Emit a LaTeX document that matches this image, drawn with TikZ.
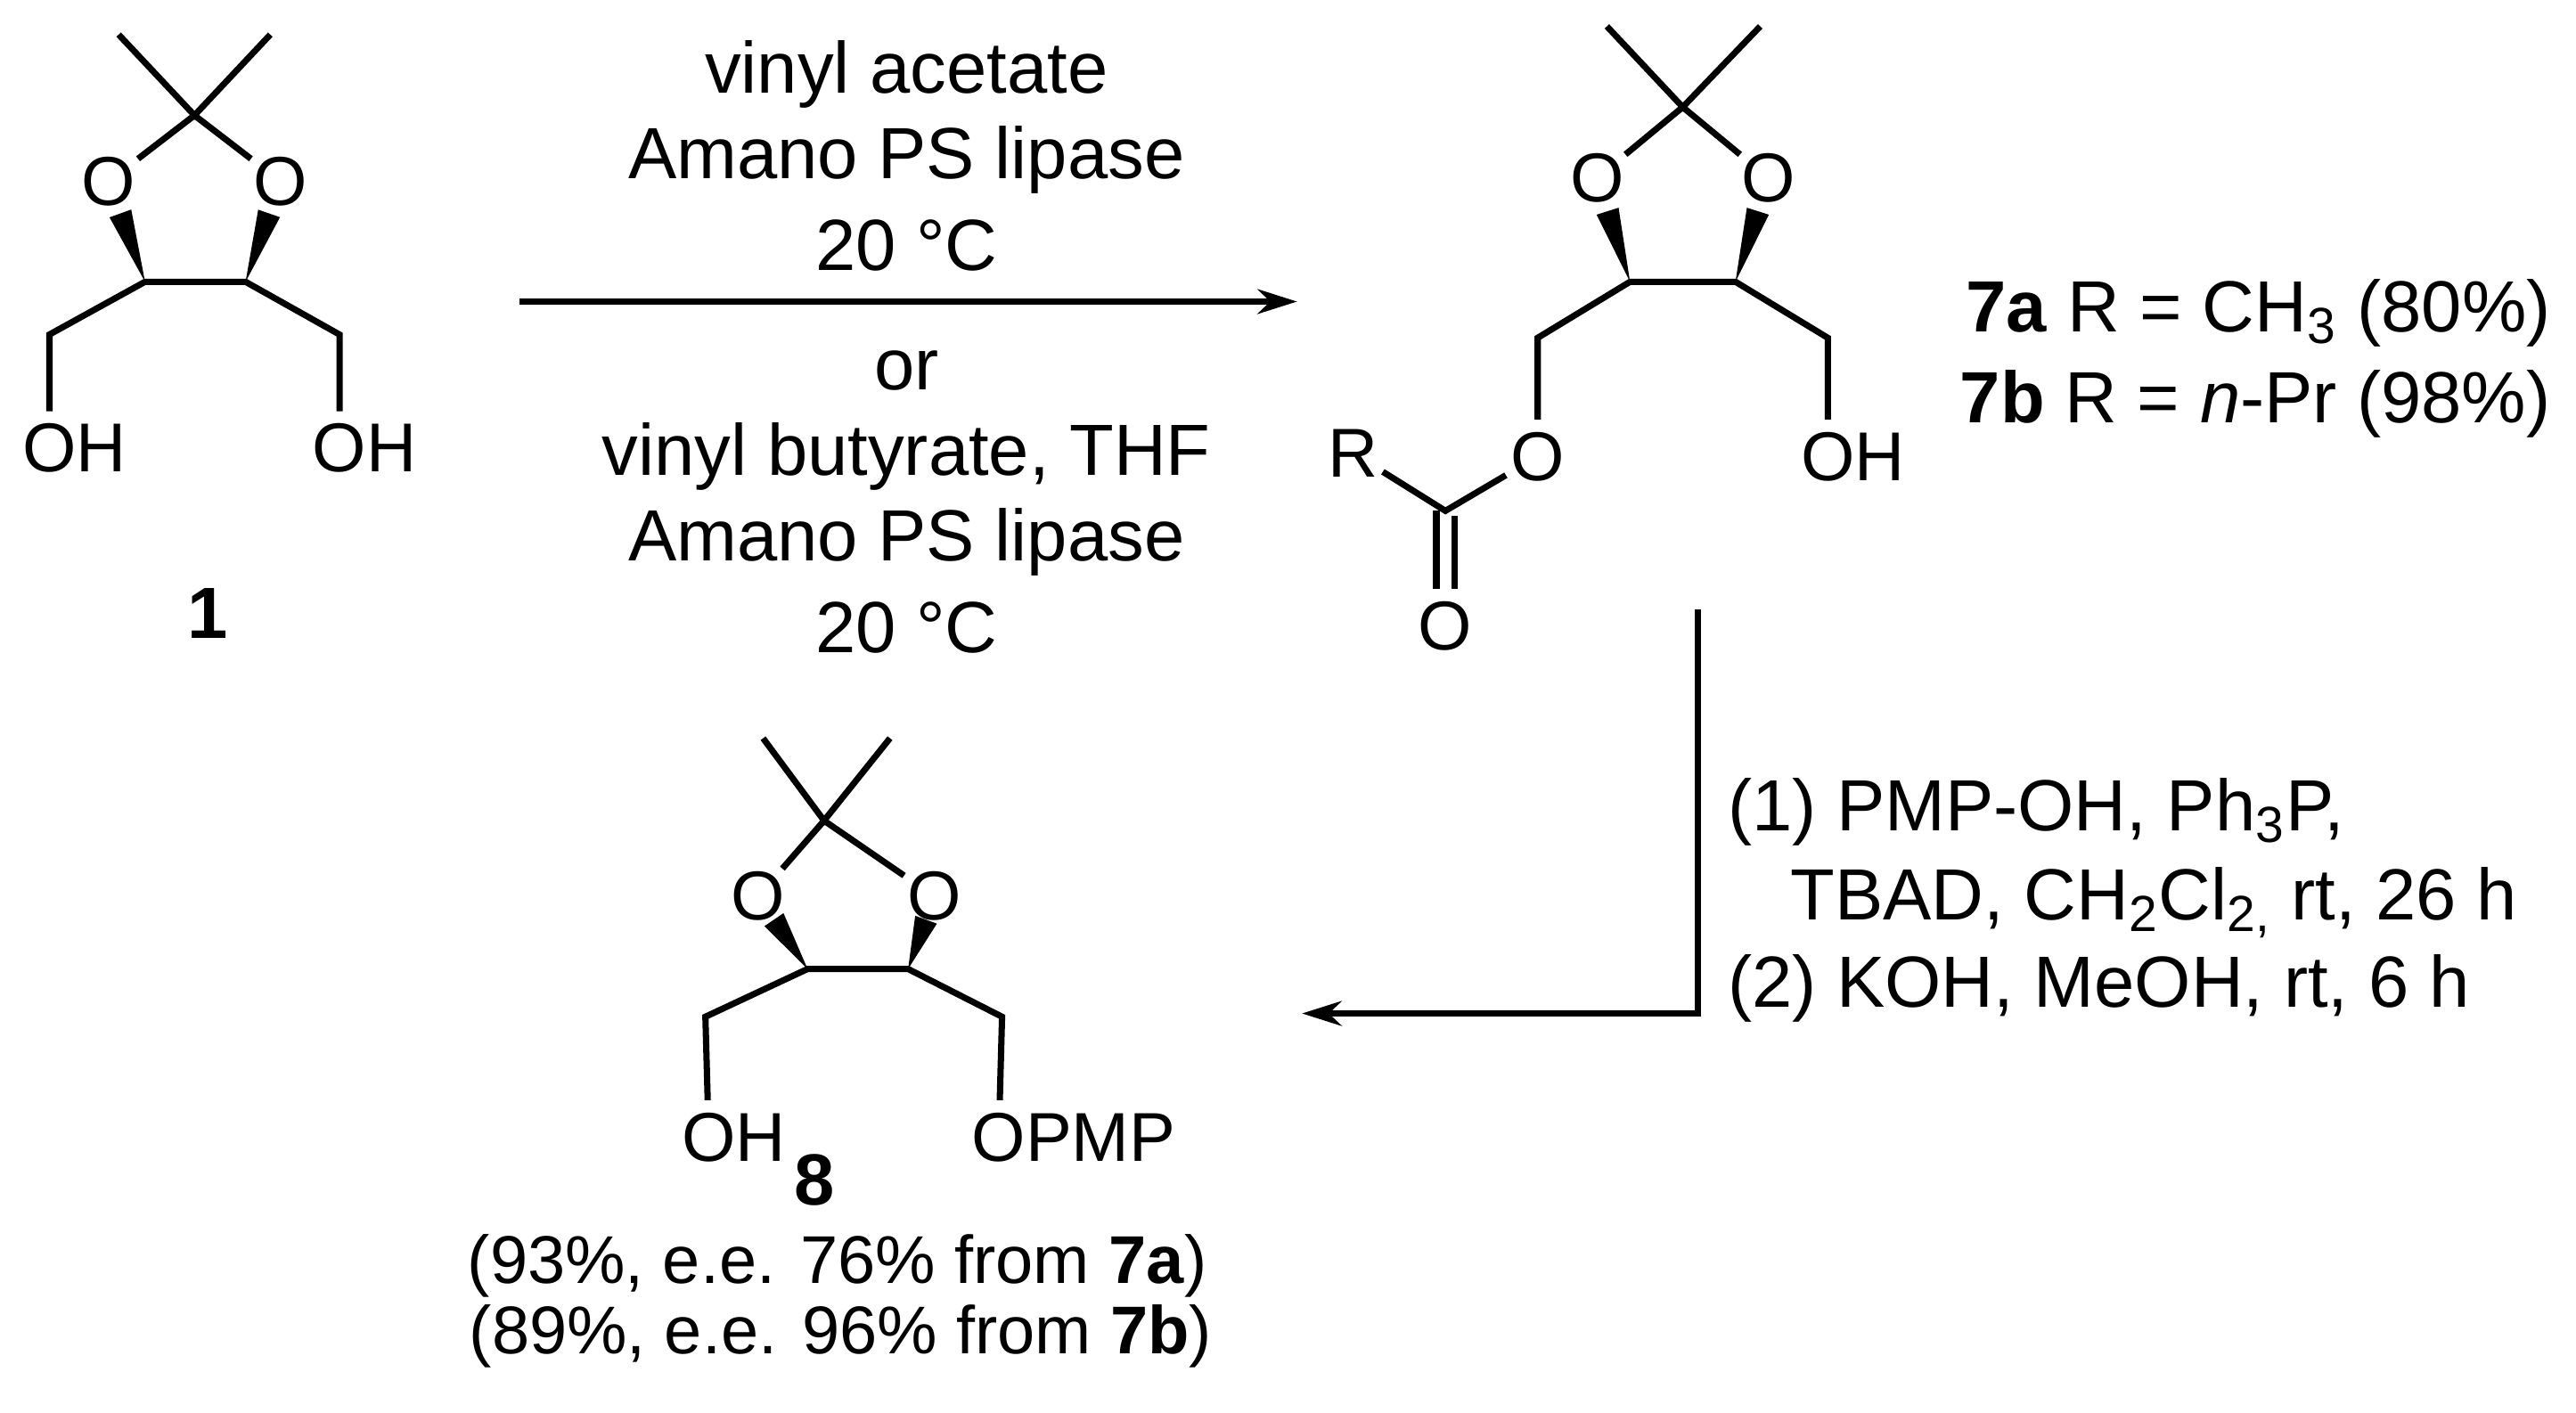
\documentclass[tikz,border=0pt]{standalone}
\usepackage{fontspec}
\setmainfont{Liberation Sans}
\usetikzlibrary{calc,arrows.meta}
\newcommand{\wdg}[2]{\fill ($(#1)$) -- ($ ($(#1)!0.68!(#2)$)!3.5pt!90:(#1) $) -- ($ ($(#1)!0.68!(#2)$)!3.5pt!-90:(#1) $) -- cycle;}
\tikzset{
  atom/.style={circle,inner sep=0pt,font=\fontsize{21}{24}\selectfont},
  txt/.style={font=\fontsize{22}{26}\selectfont,inner sep=0pt},
  btxt/.style={font=\fontsize{22}{26}\selectfont\bfseries,inner sep=0pt},
  bond/.style={line width=1.9pt},
  rxn/.style={line width=1.9pt,-{Stealth[length=12pt,width=7.5pt]}},
}
\begin{document}
\begin{tikzpicture}[x=0.5pt,y=-0.5pt]
\useasboundingbox (0,0) rectangle (1563,857);
% ---- molecule 1
\coordinate (a1m) at (118,70);
\coordinate (a1me1) at (72,21); \coordinate (a1me2) at (164,21);
\node[atom] (a1o1) at (66,110) {O};
\node[atom] (a1o2) at (170,110) {O};
\coordinate (a1c1) at (88,171); \coordinate (a1c2) at (149,171);
\coordinate (a1h1) at (30,203); \coordinate (a1h2) at (206,203);
\node[atom] (a1oh1) at (30,272) {O\rlap{H}};
\node[atom] (a1oh2) at (206,272) {O\rlap{H}};
\draw[bond] (a1me1) -- (a1m) -- (a1me2);
\draw[bond] (a1o1) -- (a1m) -- (a1o2);
\draw[bond] (a1oh1) -- (a1h1) -- (a1c1) -- (a1c2) -- (a1h2) -- (a1oh2);
\wdg{a1c1}{a1o1} \wdg{a1c2}{a1o2}
\node[btxt] (l1) at (126,372) {1};
% ---- molecule 7
\coordinate (b7m) at (1021,65);
\coordinate (b7me1) at (975,16); \coordinate (b7me2) at (1068,16);
\node[atom] (b7o1) at (969,108) {O};
\node[atom] (b7o2) at (1073,108) {O};
\coordinate (b7c1) at (989,171); \coordinate (b7c2) at (1053,171);
\coordinate (b7h1) at (933,205); \coordinate (b7h2) at (1109,205);
\node[atom] (b7oe) at (933,277) {O};
\node[atom] (b7oh) at (1109,277) {O\rlap{H}};
\coordinate (b7cc) at (877,310);
\node[atom] (b7co) at (877,380) {O};
\node[atom] (b7r) at (821,275) {R};
\draw[bond] (b7me1) -- (b7m) -- (b7me2);
\draw[bond] (b7o1) -- (b7m) -- (b7o2);
\draw[bond] (b7oe) -- (b7h1) -- (b7c1) -- (b7c2) -- (b7h2) -- (b7oh);
\draw[bond] (b7r) -- (b7cc) -- (b7oe);
\draw[bond] ($(b7cc)+(-5.5,0)$) -- ($(b7co.north)+(-5.5,0)$);
\draw[bond] ($(b7cc)+(5.5,3)$) -- ($(b7co.north)+(5.5,0)$);
\wdg{b7c1}{b7o1} \wdg{b7c2}{b7o2}
\node[txt,anchor=east] (t7a) at (1548,190) {\textbf{7a} R = CH\textsubscript{3} (80\%)};
\node[txt,anchor=east] (t7b) at (1548,245) {\textbf{7b} R = \textit{n}-Pr (98\%)};
% ---- molecule 8
\coordinate (c8m) at (500,498);
\coordinate (c8me1) at (463,448); \coordinate (c8me2) at (540,448);
\node[atom] (c8o1) at (460,544) {O};
\node[atom] (c8o2) at (567,544) {O};
\coordinate (c8c1) at (490,588); \coordinate (c8c2) at (551,588);
\coordinate (c8h1) at (428,617); \coordinate (c8h2) at (608,617);
\node[atom] (c8oh) at (430,690) {O\rlap{H}};
\node[atom] (c8op) at (606,690) {O\rlap{PMP}};
\draw[bond] (c8me1) -- (c8m) -- (c8me2);
\draw[bond] (c8o1) -- (c8m) -- (c8o2);
\draw[bond] (c8oh) -- (c8h1) -- (c8c1) -- (c8c2) -- (c8h2) -- (c8op);
\wdg{c8c1}{c8o1} \wdg{c8c2}{c8o2}
\node[btxt] (l8) at (494,716) {8};
\node[txt,font=\fontsize{20.5}{24}\selectfont] (y1) at (508,768) {(93\%, e.e. 76\% from \textbf{7a})};
\node[txt,font=\fontsize{20.5}{24}\selectfont] (y2) at (510,811) {(89\%, e.e. 96\% from \textbf{7b})};
% ---- arrows
\coordinate (ar1s) at (315,183); \coordinate (ar1e) at (787,183);
\draw[rxn] (ar1s) -- (ar1e);
\node[txt] (u1) at (550,45) {vinyl acetate};
\node[txt] (u2) at (550,97) {Amano PS lipase};
\node[txt] (u3) at (550,149) {20 °C};
\node[txt] (d1) at (550,225) {or};
\node[txt] (d2) at (550,277) {vinyl butyrate, THF};
\node[txt] (d3) at (550,329) {Amano PS lipase};
\node[txt] (d4) at (550,381) {20 °C};
\coordinate (ar2s) at (1030,370); \coordinate (ar2k) at (1030,615); \coordinate (ar2e) at (790,615);
\draw[rxn] (ar2s) -- (ar2k) -- (ar2e);
\node[txt,anchor=base west] (s1) at (1048,504) {(1) PMP-OH, Ph\textsubscript{3}P,};
\node[txt,anchor=base west] (s2) at (1086,558) {TBAD, CH\textsubscript{2}Cl\textsubscript{2,} rt, 26 h};
\node[txt,anchor=base west] (s3) at (1048,611) {(2) KOH, MeOH, rt, 6 h};
\end{tikzpicture}
\end{document}
